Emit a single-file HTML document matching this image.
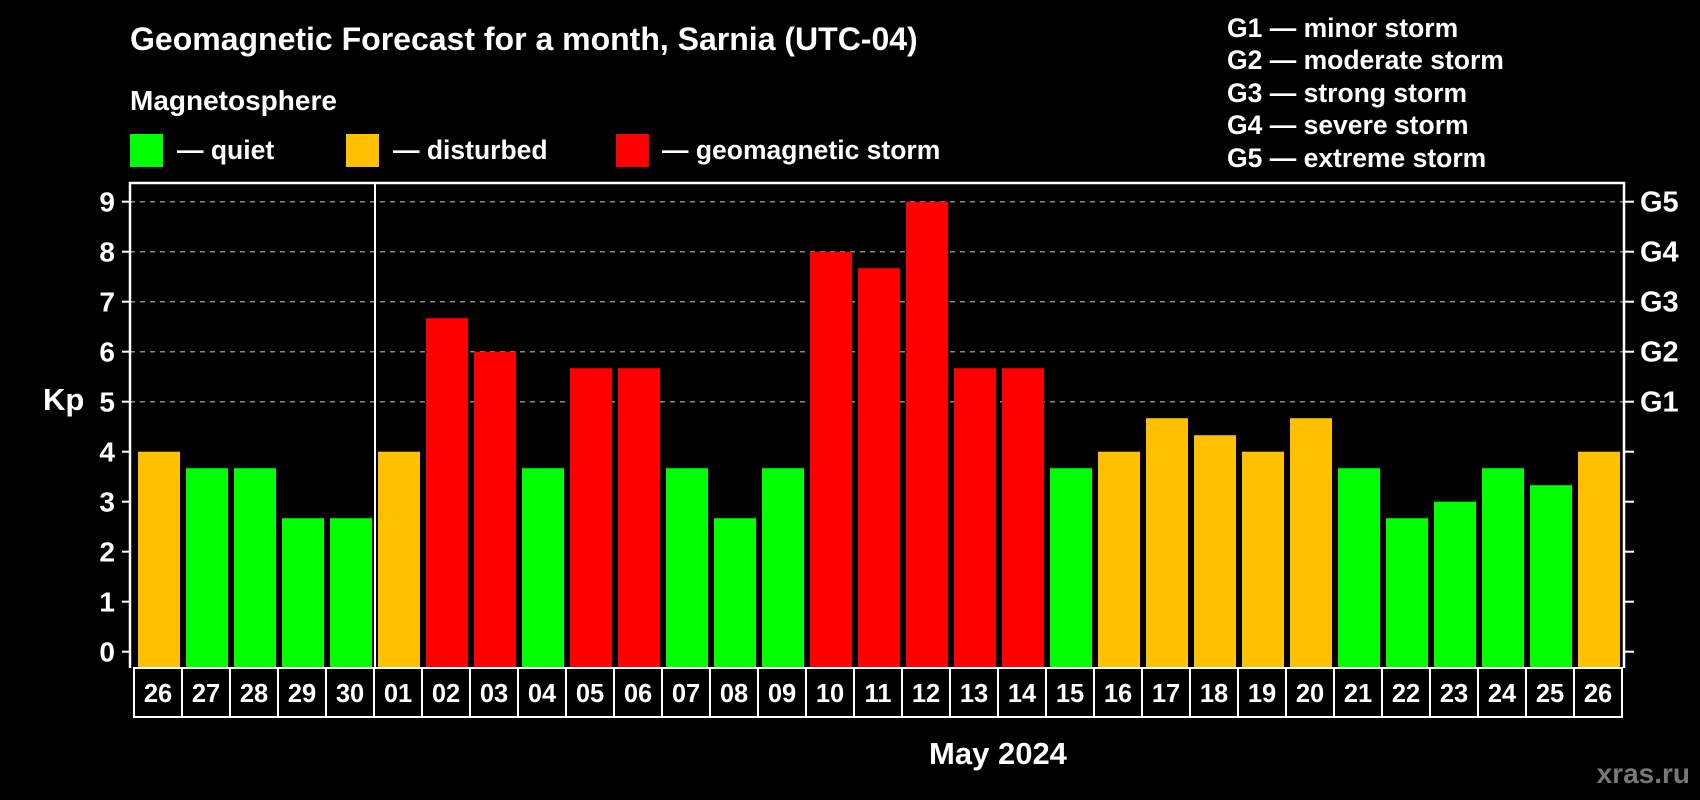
<!DOCTYPE html>
<html><head><meta charset="utf-8"><style>
html,body{margin:0;padding:0;background:#000;}
svg{display:block;font-family:"Liberation Sans",Arial,sans-serif;font-weight:bold;}
</style></head><body>
<svg id="c" width="1700" height="800" viewBox="0 0 1700 800">
<text x="130" y="50" fill="#fff" font-size="32">Geomagnetic Forecast for a month, Sarnia (UTC-04)</text>
<text x="130" y="110" fill="#fff" font-size="28">Magnetosphere</text>
<g><rect x="130" y="134" width="33" height="33" fill="#00ff00"/><text x="177" y="159" fill="#fff" font-size="26.5">— quiet</text></g>
<g><rect x="346" y="134" width="33" height="33" fill="#ffc000"/><text x="393" y="159" fill="#fff" font-size="26.5">— disturbed</text></g>
<g><rect x="616" y="134" width="33" height="33" fill="#ff0000"/><text x="662" y="159" fill="#fff" font-size="26.5">— geomagnetic storm</text></g>
<g fill="#fff" font-size="26.5">
<text x="1227" y="37">G1 — minor storm</text>
<text x="1227" y="69">G2 — moderate storm</text>
<text x="1227" y="102">G3 — strong storm</text>
<text x="1227" y="134">G4 — severe storm</text>
<text x="1227" y="167">G5 — extreme storm</text>
</g>
<text x="43" y="410" fill="#fff" font-size="31">Kp</text>
<text x="998" y="764" fill="#fff" font-size="31" text-anchor="middle">May 2024</text>
<text x="1690" y="783" fill="#777" font-size="28" text-anchor="end">xras.ru</text>
<g id="grid"></g><g id="bars"></g><g id="axes"></g>
</svg>
<script>
const days=["26","27","28","29","30","01","02","03","04","05","06","07","08","09","10","11","12","13","14","15","16","17","18","19","20","21","22","23","24","25","26"];
const kp=[4,3.67,3.67,2.67,2.67,4,6.67,6,3.67,5.67,5.67,3.67,2.67,3.67,8,7.67,9,5.67,5.67,3.67,4,4.67,4.33,4,4.67,3.67,2.67,3,3.67,3.33,4];
const yTicks=[0,1,2,3,4,5,6,7,8,9];
const gLabels=["G1","G2","G3","G4","G5"];
const NS="http://www.w3.org/2000/svg";
const L=130,R=1624,T=183,B=668,x0=138,pitch=48,bw=42;
const y=v=>651.7-v*50;
const x=i=>x0+i*pitch;
function mk(tag,attrs,parent,txt){const e=document.createElementNS(NS,tag);for(const k in attrs)e.setAttribute(k,attrs[k]);if(txt!==undefined)e.textContent=txt;parent.appendChild(e);return e;}
const grid=document.getElementById('grid'),bars=document.getElementById('bars'),axes=document.getElementById('axes');
yTicks.forEach(v=>{
  if(v>=5){const g=mk('line',{x1:L,x2:R,y1:y(v),y2:y(v),stroke:'#888','stroke-dasharray':'5,5','stroke-width':1.5},grid);
  
  }
  const t=mk('line',{x1:L-8,x2:L,y1:y(v),y2:y(v),stroke:'#fff','stroke-width':2},axes);
  
  
  const tl=mk('text',{x:115,y:y(v)+10,fill:'#fff','font-size':28,'text-anchor':'end'},axes,String(v));
  
  
  const rt=mk('line',{x1:R,x2:R+10,y1:y(v),y2:y(v),stroke:'#fff','stroke-width':2},axes);
  
  
  if(v>=5){const gl=mk('text',{x:1640,y:y(v)+10,fill:'#fff','font-size':29},axes,gLabels[v-5]);
  
  }
});
kp.forEach((v,i)=>{
  const c=v>=5?'#ff0000':(v>=4?'#ffc000':'#00ff00');
  const r=mk('rect',{x:x(i),y:y(v),width:bw,height:B-y(v),fill:c},bars);
  
  
});
const frame=mk('path',{d:`M${L} ${B}V${T}H${R}V${B}`,fill:'none',stroke:'#fff','stroke-width':2.5},axes);


const sep=mk('line',{x1:375,x2:375,y1:T,y2:B,stroke:'#fff','stroke-width':2},axes);


days.forEach((d,i)=>{
  const bx=x(i)-4;
  const b=mk('rect',{x:bx,y:B,width:pitch,height:49,fill:'#000',stroke:'#fff','stroke-width':2},axes);
  
  
  const t=mk('text',{x:bx+pitch/2,y:B+34,fill:'#fff','font-size':25.5,'text-anchor':'middle'},axes,d);
  
  
});
</script>
</body></html>
